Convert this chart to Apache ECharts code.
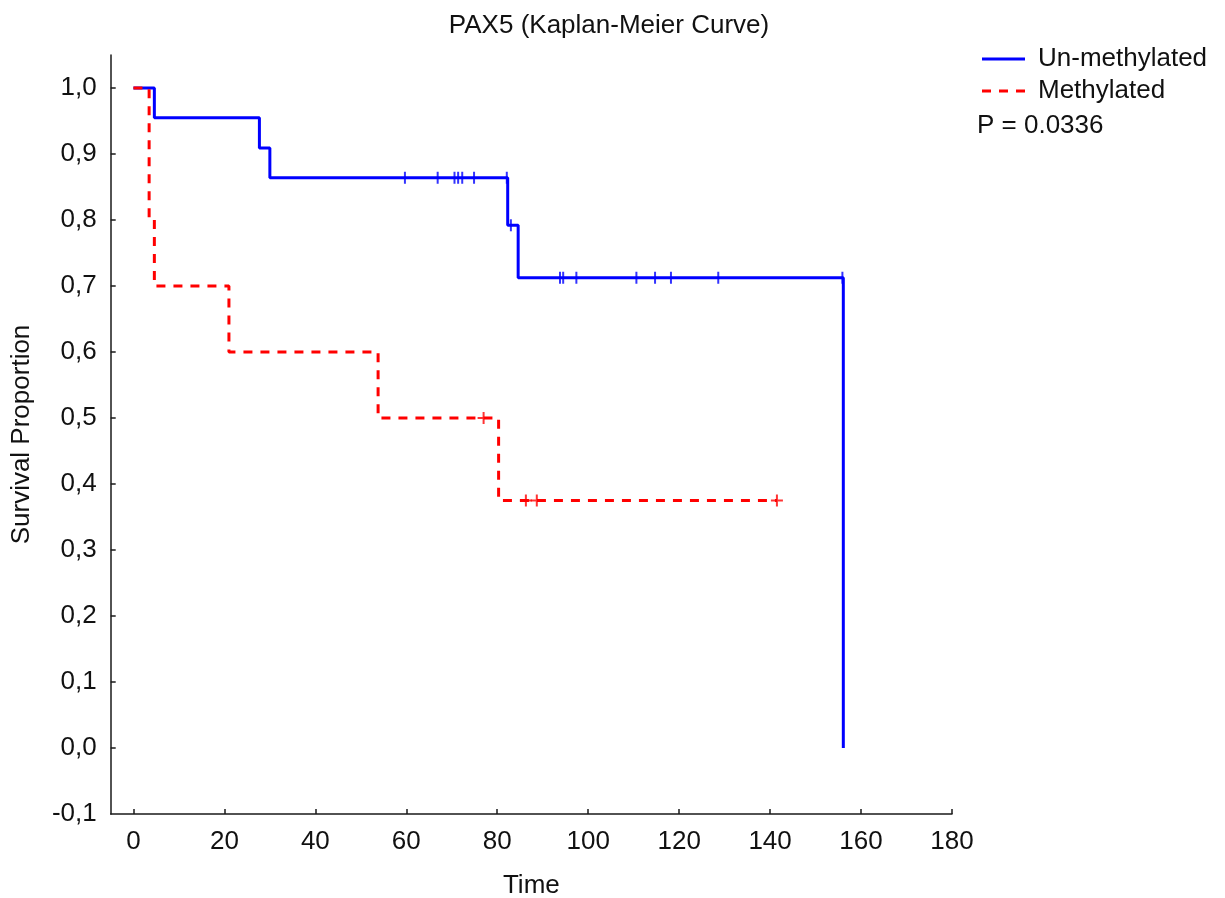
<!DOCTYPE html>
<html>
<head>
<meta charset="utf-8">
<title>PAX5 (Kaplan-Meier Curve)</title>
<script src="https://cdn.jsdelivr.net/npm/echarts@6/dist/echarts.min.js"></script>
<style>
  html, body { margin: 0; padding: 0; background: #fff; }
  #chart { width: 1225px; height: 898px; }
</style>
</head>
<body>
<div id="chart"></div>
<script>
// KM step points (time, survival)
const unTimes = [0, 4.6, 27.7, 30.0, 82.3, 84.6, 156.1]
const unSurv = [1.0, 0.955, 0.909, 0.864, 0.792, 0.7125, 0.0]
const unCensor = [59.7, 66.9, 70.6, 71.4, 72.3, 74.9, 82.1, 83.0, 93.8, 94.5, 97.4, 110.6, 114.7, 118.2, 128.6, 155.9]

const meTimes = [0, 3.45, 4.6, 21.0, 53.8, 80.3, 141.5]
const meSurv = [1.0, 0.8, 0.7, 0.6, 0.5, 0.375, 0.375]
const meCensor = [77.0, 86.3, 88.7, 141.5]

const xTicks = [0, 20, 40, 60, 80, 100, 120, 140, 160, 180]
const yTicks = [0.0, 0.1, 0.2, 0.3, 0.4, 0.5, 0.6, 0.7, 0.8, 0.9, 1.0]
const pValue = 'P = 0.0336'

const FONT = '"Liberation Sans", Arial, sans-serif'
const FS = 26
const BLUE = '#0000ff'
const RED = '#ff0000'

// survival level in force at time t (step function, right-continuous)
function survAt(times, surv, t) {
  let s = surv[0]
  for (let i = 0; i < times.length; i++) {
    if (times[i] <= t) s = surv[i]
  }
  return s
}

const zip = (a, b) => a.map((v, i) => [v, b[i]])

const chart = echarts.init(document.getElementById('chart'), null, { renderer: 'canvas' })

const axisLine = { show: true, onZero: false, lineStyle: { color: '#1a1a1a', width: 1.5 } }
const tickStyle = { color: '#1a1a1a', width: 1.5 }
const txt = { fontFamily: FONT, fontSize: FS, color: '#111' }

chart.setOption({
  animation: false,
  backgroundColor: '#ffffff',
  textStyle: { fontFamily: FONT },
  title: {
    text: 'PAX5 (Kaplan-Meier Curve)',
    left: 604,
    top: 8,
    textAlign: 'center',
    textStyle: Object.assign({ fontWeight: 'normal' }, txt)
  },
  legend: {
    data: [
      { name: 'Un-methylated', icon: 'rect' },
      { name: 'Methylated', icon: 'path://M0,0 h9 v3 h-9 Z M17,0 h9 v3 h-9 Z M34,0 h9 v3 h-9 Z' }
    ],
    orient: 'vertical',
    left: 982,
    top: 46,
    padding: 0,
    itemWidth: 43,
    itemHeight: 3,
    itemGap: 6,
    textStyle: Object.assign({ lineHeight: 26, padding: [0, 0, 0, 8] }, txt)
  },
  graphic: [{
    type: 'text',
    left: 977,
    top: 113,
    style: { text: pValue, font: FS + 'px ' + FONT, fill: '#111' }
  }],
  grid: { left: 110.7, right: 273, top: 55, bottom: 84, containLabel: false, outerBoundsMode: 'none' },
  xAxis: {
    type: 'value',
    min: -5,
    max: 180,
    name: 'Time',
    nameLocation: 'middle',
    nameGap: 59,
    nameTextStyle: txt,
    axisLine,
    axisTick: { show: true, inside: true, length: 5, customValues: xTicks, lineStyle: tickStyle },
    axisLabel: Object.assign({ customValues: xTicks, margin: 15 }, txt),
    splitLine: { show: false }
  },
  yAxis: {
    type: 'value',
    min: -0.1,
    max: 1.05,
    name: 'Survival Proportion',
    nameLocation: 'middle',
    nameGap: 76,
    nameTextStyle: txt,
    axisLine,
    axisTick: { show: true, inside: true, length: 5, customValues: yTicks, lineStyle: tickStyle },
    axisLabel: Object.assign({
      customValues: [-0.1].concat(yTicks),
      margin: 14,
      formatter: v => v.toFixed(1).replace('.', ',')
    }, txt),
    splitLine: { show: false }
  },
  series: [
    {
      name: 'Un-methylated',
      type: 'line',
      step: 'end',
      data: zip(unTimes, unSurv),
      symbol: 'none',
      lineStyle: { color: BLUE, width: 3 },
      itemStyle: { color: BLUE },
      z: 2
    },
    {
      name: 'Methylated',
      type: 'line',
      step: 'end',
      data: zip(meTimes, meSurv),
      symbol: 'none',
      lineStyle: { color: RED, width: 3, type: [9, 8] },
      itemStyle: { color: RED },
      z: 3
    },
    {
      name: 'Un-methylated censored',
      type: 'scatter',
      data: unCensor.map(t => [t, survAt(unTimes, unSurv, t)]),
      symbol: 'path://M0,0 L2,0 L2,12 L0,12 Z',
      symbolSize: [2, 12],
      itemStyle: { color: BLUE },
      z: 4
    },
    {
      name: 'Methylated censored',
      type: 'scatter',
      data: meCensor.map(t => [t, survAt(meTimes, meSurv, t)]),
      symbol: 'path://M5,0 L7,0 L7,5 L12,5 L12,7 L7,7 L7,12 L5,12 L5,7 L0,7 L0,5 L5,5 Z',
      symbolSize: 12,
      itemStyle: { color: RED },
      z: 5
    }
  ]
})
</script>
</body>
</html>
